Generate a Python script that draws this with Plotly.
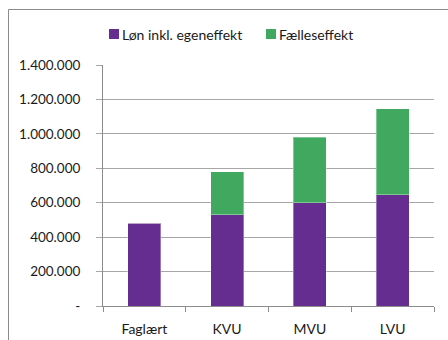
import plotly.graph_objects as go

# Data
categories = ["Faglært", "KVU", "MVU", "LVU"]
series_names = ["Løn inkl. egeneffekt", "Fælleseffekt"]
loen_values = [480000, 530000, 600000, 645000]
faelles_values = [0, 250000, 380000, 500000]
y_tick_values = [0, 200000, 400000, 600000, 800000, 1000000, 1200000, 1400000]
y_tick_labels = ["-", "200.000", "400.000", "600.000", "800.000",
                 "1.000.000", "1.200.000", "1.400.000"]

PURPLE = "#662D91"
GREEN = "#41A85F"
GRID = "#A6A6A6"
AXIS = "#8C8C8C"
FONT = "Lato"
TEXT = "#1a1a1a"

W, H = 448, 340
L, R, T, B = 103, 14, 65, 34
PW, PH = W - L - R, H - T - B


def px_x(px):
    return (px - L) / PW


def px_y(py):
    return (H - B - py) / PH


fig = go.Figure()
fig.add_trace(go.Bar(
    x=categories, y=loen_values, name=series_names[0],
    marker=dict(color=PURPLE, line=dict(color="rgba(255,255,255,0.35)", width=1)),
    width=0.4, showlegend=False,
))
fig.add_trace(go.Bar(
    x=categories, y=faelles_values, name=series_names[1],
    marker=dict(color=GREEN, line=dict(color="rgba(255,255,255,0.35)", width=1)),
    width=0.4, showlegend=False,
))

# Outer chart frame
fig.add_shape(type="rect", xref="paper", yref="paper",
              x0=px_x(8.5), x1=px_x(470), y0=px_y(360), y1=px_y(9.5),
              line=dict(color=AXIS, width=1), fillcolor="rgba(0,0,0,0)", layer="below")

# Legend drawn as swatches + labels
legend_items = [(series_names[0], PURPLE, 109, 121), (series_names[1], GREEN, 266, 278)]
for name, color, sx, tx in legend_items:
    fig.add_shape(type="rect", xref="paper", yref="paper",
                  x0=px_x(sx), x1=px_x(sx + 10), y0=px_y(39), y1=px_y(29),
                  line=dict(width=0), fillcolor=color)
    fig.add_annotation(xref="paper", yref="paper", x=px_x(tx - 1), y=px_y(34),
                       xanchor="left", yanchor="middle", text=name, showarrow=False,
                       font=dict(family=FONT, size=14, color=TEXT))

fig.update_layout(
    width=W, height=H,
    margin=dict(l=L, r=R, t=T, b=B, autoexpand=False),
    barmode="stack",
    paper_bgcolor="white", plot_bgcolor="white",
    font=dict(family=FONT, size=14, color=TEXT),
)
fig.update_yaxes(
    range=[0, 1400000], tickvals=y_tick_values, ticktext=y_tick_labels,
    showgrid=True, gridcolor=GRID, gridwidth=1, zeroline=False,
    showline=True, linecolor=AXIS, linewidth=1, automargin=False,
    ticks="outside", ticklen=6, tickcolor=GRID, ticklabelstandoff=13,
    tickfont=dict(family=FONT, size=13.5, color=TEXT),
)
fig.update_xaxes(
    type="category", showgrid=False, showline=True, linecolor=AXIS, linewidth=1,
    ticks="outside", tickson="boundaries", ticklen=5, tickcolor=AXIS,
    ticklabelstandoff=10, automargin=False,
)

fig.write_html("out.html")
